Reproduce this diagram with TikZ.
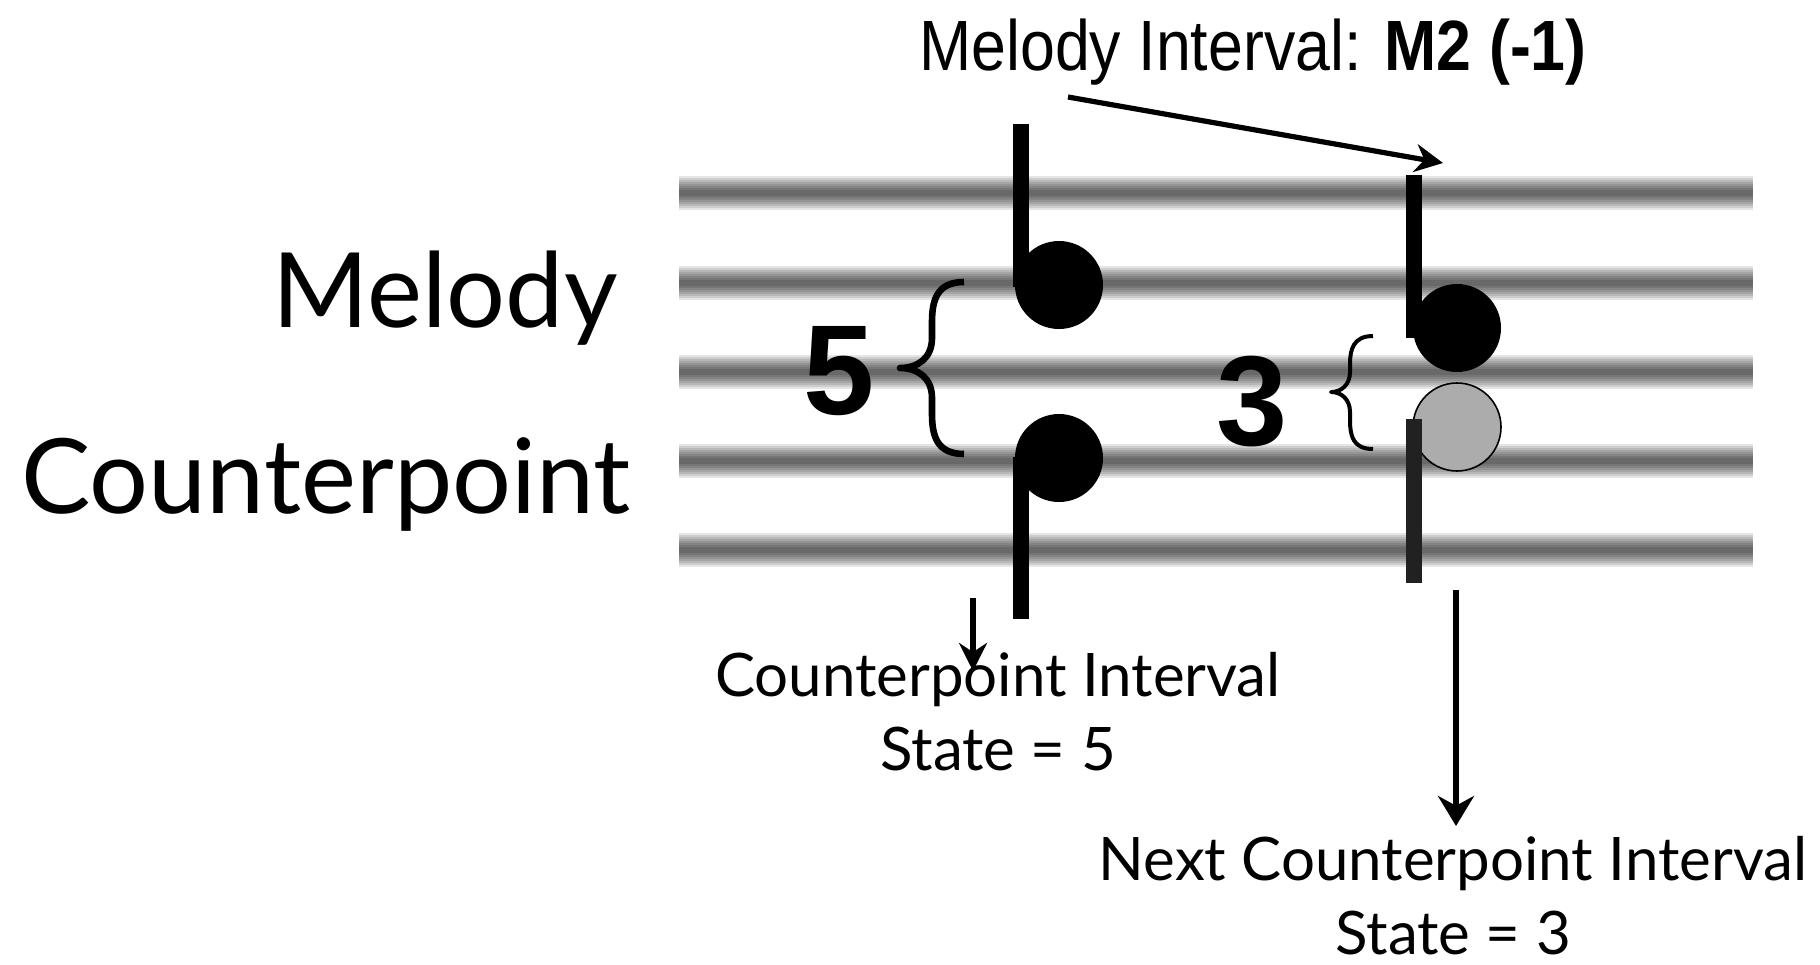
\documentclass[tikz,border=0pt]{standalone}
\usepackage{fontspec}
\usepackage{tikz}
\usetikzlibrary{arrows.meta,positioning}
\newfontfamily\gillfont{Lato}
\newfontfamily\narrowfont[FakeStretch=0.88]{Liberation Sans}
\newfontfamily\numfont{Liberation Sans}

\begin{document}
\begin{tikzpicture}[
        x=0.5pt, y=-0.5pt,
        head/.style={circle, fill=black, minimum size=44pt, inner sep=0pt},
        ghost/.style={circle, draw=black, line width=0.8pt, fill=gray!65, minimum size=44pt, inner sep=0pt},
        stem/.style={line width=8pt},
        arrow/.style={-{Stealth[length=15pt, width=18pt]}, line width=3pt},
        thinarrow/.style={-{Stealth[length=14pt, width=14pt]}, line width=2.6pt},
        bracestroke/.style={line width=#1, line join=round},
        txt/.style={inner sep=0pt, font=\gillfont\fontsize{30}{37}\selectfont, align=center},
        big/.style={inner sep=0pt, font=\gillfont\fontsize{52}{60}\selectfont},
        num/.style={inner sep=0pt, font=\numfont\bfseries\fontsize{64}{64}\selectfont},
    ]

        \path[fill=white] (0,0) rectangle (1820,964);

        \foreach \y in {193,283,372,461,550} {
            \foreach \w in {17pt,15pt,13pt,11pt,9pt,7pt,5pt,3pt} {
                \draw[line width=\w, draw opacity=0.1] (679,\y) -- (1753,\y);
            }
        }

        \node[head] (melA) at (1059,285) {};
        \node[head] (cpA) at (1059,458) {};
        \node[head] (melB) at (1457,328) {};
        \node[ghost] (cpB) at (1457,427) {};

        \draw[stem] ([xshift=-19pt,yshift=-1pt]melA.center) -- ++(0,-163);
        \draw[stem] ([xshift=-19pt,yshift=0.5pt]cpA.center) -- ++(0,162);
        \draw[stem] ([xshift=-21.5pt,yshift=-5pt]melB.center) -- ++(0,-163);
        \draw[stem, black!87] ([xshift=-21.5pt,yshift=4pt]cpB.center) -- ++(0,164);

        \draw[bracestroke=3.3pt] (964,282) .. controls (937,282) and (932,300) .. (932,322) -- (932,338)
            .. controls (932,358) and (918,368) .. (900,368) .. controls (918,368) and (932,378) .. (932,398)
            -- (932,414) .. controls (932,436) and (937,454) .. (964,454);
        \draw[bracestroke=2pt] (1373,336) .. controls (1353,336) and (1350,350) .. (1350,364) -- (1350,372)
            .. controls (1350,385) and (1341,392) .. (1331,392) .. controls (1341,392) and (1350,399) .. (1350,412)
            -- (1350,420) .. controls (1350,436) and (1353,449) .. (1373,449);
        \node[num] (fifth) at (839,371) {5};
        \node[num] (third) at (1252,402) {3};

        \node[big, anchor=base east] (melLabel) at (618,327) {Melody};
        \node[big, anchor=base west] (cpLabel) at (21,513) {Counterpoint};

        \node[inner sep=0pt, anchor=base, font=\narrowfont\fontsize{35.6}{40}\selectfont] (title) at (1253,70) {Melody Interval: \textbf{M2 (-1)}};
        \node[txt, anchor=north] (cpState) at (998,652) {Counterpoint Interval\\State = 5};
        \node[txt, anchor=north] (nextState) at (1453,836) {Next Counterpoint Interval\\State = 3};

        \coordinate (titleFrom) at (1068,97);
        \coordinate (titleTo) at (1443,163);
        \coordinate (cpFrom) at (973,598);
        \coordinate (cpTo) at (973,671);
        \coordinate (nextFrom) at (1456,590);
        \coordinate (nextTo) at (1456,826);

        \draw[thinarrow] (titleFrom) -- (titleTo);
        \draw[thinarrow] (cpFrom) -- (cpTo);
        \draw[arrow] (nextFrom) -- (nextTo);

    \end{tikzpicture}
\end{document}
